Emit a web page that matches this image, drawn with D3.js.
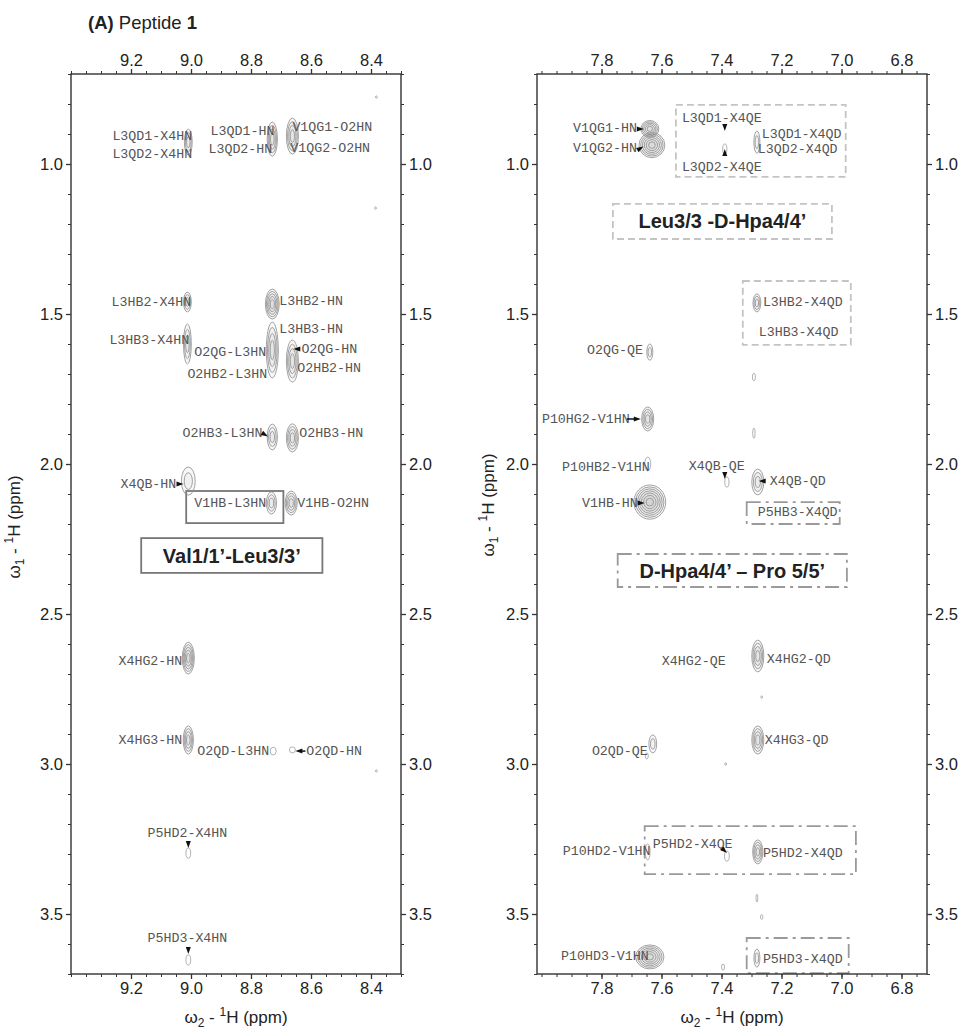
<!DOCTYPE html>
<html>
<head>
<meta charset="utf-8">
<script src="https://cdn.jsdelivr.net/npm/d3@7"></script>
<style>
  body { margin: 0; background: #fff; }
  svg { display: block; }
  .lbl { font-family: "Liberation Mono", monospace; font-size: 13.3px; fill: #555; }
  .tick text { font-family: "Liberation Sans", Arial, sans-serif; font-size: 16.5px; fill: #222; }
  .tick line { stroke: #333; }
  .ttl { font-family: "Liberation Sans", Arial, sans-serif; font-size: 17px; fill: #222; }
  .boxtxt { font-family: "Liberation Sans", Arial, sans-serif; font-size: 20px; font-weight: bold; fill: #222; }
</style>
</head>
<body>
<div id="chart"></div>
<script>
// tick values (ppm)
var leftXTicks = [9.2, 9.0, 8.8, 8.6, 8.4];
var rightXTicks = [7.8, 7.6, 7.4, 7.2, 7.0, 6.8];
var yTicks = [1.0, 1.5, 2.0, 2.5, 3.0, 3.5];

// cross peaks: [w2, w1, half width w2, half width w1, contour levels]
var leftPeaks = [
  [9.009, 0.927, 0.013, 0.043, 3],
  [8.729, 0.917, 0.017, 0.057, 4],
  [8.662, 0.907, 0.020, 0.060, 4],
  [8.382, 0.777, 0.003, 0.004, 1],
  [8.385, 1.147, 0.003, 0.004, 1],
  [9.012, 1.460, 0.013, 0.033, 3],
  [8.729, 1.467, 0.023, 0.050, 5],
  [9.012, 1.600, 0.013, 0.067, 3],
  [8.729, 1.620, 0.020, 0.093, 4],
  [8.662, 1.657, 0.020, 0.070, 4],
  [8.729, 1.910, 0.017, 0.043, 3],
  [8.662, 1.913, 0.020, 0.047, 4],
  [9.009, 2.057, 0.023, 0.047, 2],
  [8.732, 2.130, 0.017, 0.037, 3],
  [8.666, 2.130, 0.020, 0.040, 4],
  [9.009, 2.647, 0.020, 0.053, 5],
  [9.009, 2.920, 0.017, 0.047, 4],
  [8.726, 2.957, 0.010, 0.013, 1],
  [8.662, 2.953, 0.010, 0.010, 1],
  [8.382, 3.023, 0.003, 0.004, 1],
  [9.009, 3.297, 0.008, 0.017, 1],
  [9.009, 3.653, 0.008, 0.017, 1]
];

var rightPeaks = [
  [7.639, 0.883, 0.030, 0.028, 5],
  [7.632, 0.937, 0.043, 0.042, 6],
  [7.389, 0.950, 0.007, 0.017, 1],
  [7.282, 0.927, 0.010, 0.037, 2],
  [7.282, 1.463, 0.013, 0.030, 3],
  [7.639, 1.627, 0.010, 0.027, 2],
  [7.292, 1.710, 0.005, 0.013, 1],
  [7.646, 1.850, 0.020, 0.040, 4],
  [7.292, 1.897, 0.004, 0.017, 1],
  [7.646, 2.000, 0.010, 0.023, 1],
  [7.382, 2.060, 0.007, 0.017, 1],
  [7.279, 2.060, 0.020, 0.043, 3],
  [7.639, 2.127, 0.053, 0.057, 7],
  [7.279, 2.640, 0.020, 0.053, 4],
  [7.279, 2.920, 0.020, 0.047, 4],
  [7.266, 2.777, 0.003, 0.004, 1],
  [7.386, 3.000, 0.003, 0.004, 1],
  [7.629, 2.933, 0.013, 0.030, 2],
  [7.649, 2.973, 0.005, 0.010, 1],
  [7.646, 3.293, 0.008, 0.027, 1],
  [7.382, 3.307, 0.008, 0.017, 1],
  [7.279, 3.293, 0.017, 0.040, 4],
  [7.282, 3.447, 0.003, 0.013, 1],
  [7.266, 3.510, 0.004, 0.008, 1],
  [7.282, 3.647, 0.010, 0.030, 2],
  [7.639, 3.643, 0.047, 0.040, 6],
  [7.395, 3.677, 0.005, 0.010, 1]
];

// assignments: [text, w2, w1, anchor]
var leftLabels = [
  ["L3QD1-X4HN", 8.996, 0.907, "end"],
  ["L3QD2-X4HN", 8.996, 0.967, "end"],
  ["L3QD1-HN", 8.722, 0.890, "end"],
  ["L3QD2-HN", 8.729, 0.950, "end"],
  ["V1QG1-O2HN", 8.662, 0.877, "start"],
  ["V1QG2-O2HN", 8.669, 0.947, "start"],
  ["L3HB2-X4HN", 8.999, 1.460, "end"],
  ["L3HB2-HN", 8.706, 1.457, "start"],
  ["L3HB3-X4HN", 9.006, 1.587, "end"],
  ["L3HB3-HN", 8.706, 1.550, "start"],
  ["O2QG-L3HN", 8.989, 1.627, "start"],
  ["O2HB2-L3HN", 9.012, 1.700, "start"],
  ["O2QG-HN", 8.632, 1.617, "start"],
  ["O2HB2-HN", 8.646, 1.680, "start"],
  ["O2HB3-L3HN", 8.762, 1.897, "end"],
  ["O2HB3-HN", 8.639, 1.897, "start"],
  ["X4QB-HN", 9.049, 2.067, "end"],
  ["V1HB-L3HN", 8.989, 2.133, "start"],
  ["V1HB-O2HN", 8.646, 2.133, "start"],
  ["X4HG2-HN", 9.029, 2.657, "end"],
  ["X4HG3-HN", 9.029, 2.923, "end"],
  ["O2QD-L3HN", 8.979, 2.957, "start"],
  ["O2QD-HN", 8.616, 2.957, "start"],
  ["P5HD2-X4HN", 9.012, 3.233, "middle"],
  ["P5HD3-X4HN", 9.012, 3.583, "middle"]
];

var rightLabels = [
  ["V1QG1-HN", 7.682, 0.883, "end"],
  ["V1QG2-HN", 7.682, 0.947, "end"],
  ["L3QD1-X4QE", 7.532, 0.847, "start"],
  ["L3QD2-X4QE", 7.532, 1.010, "start"],
  ["L3QD1-X4QD", 7.266, 0.903, "start"],
  ["L3QD2-X4QD", 7.279, 0.953, "start"],
  ["L3HB2-X4QD", 7.262, 1.460, "start"],
  ["L3HB3-X4QD", 7.276, 1.563, "start"],
  ["O2QG-QE", 7.662, 1.620, "end"],
  ["P10HG2-V1HN", 7.706, 1.850, "end"],
  ["P10HB2-V1HN", 7.639, 2.013, "end"],
  ["X4QB-QE", 7.509, 2.007, "start"],
  ["X4QB-QD", 7.239, 2.057, "start"],
  ["V1HB-HN", 7.679, 2.130, "end"],
  ["P5HB3-X4QD", 7.279, 2.160, "start"],
  ["X4HG2-QE", 7.599, 2.657, "start"],
  ["X4HG2-QD", 7.249, 2.653, "start"],
  ["X4HG3-QD", 7.256, 2.920, "start"],
  ["O2QD-QE", 7.832, 2.957, "start"],
  ["P10HD2-V1HN", 7.929, 3.293, "start"],
  ["P5HD2-X4QE", 7.629, 3.267, "start"],
  ["P5HD2-X4QD", 7.262, 3.297, "start"],
  ["P5HD3-X4QD", 7.262, 3.650, "start"],
  ["P10HD3-V1HN", 7.935, 3.643, "start"]
];

// pointer arrows: [w2, w1, direction in degrees, tail length]
var leftArrows = [
  [8.649, 1.617, 180, 0],
  [8.752, 1.903, 30, 0],
  [9.035, 2.067, 0, 0],
  [8.642, 2.957, 180, 4],
  [9.009, 3.270, 90, 0],
  [9.009, 3.623, 90, 0]
];
var rightArrows = [
  [7.669, 0.883, 0, 0],
  [7.669, 0.947, -30, 0],
  [7.389, 0.880, 90, 0],
  [7.389, 0.960, -90, 0],
  [7.679, 1.850, 0, 8],
  [7.389, 2.040, 90, 0],
  [7.266, 2.057, 180, 0],
  [7.666, 2.130, 0, 0],
  [7.389, 3.290, 45, 0]
];

// highlighted regions: [w2 from, w2 to, w1 from, w1 to, line kind, caption]
var leftBoxes = [
  [9.016, 8.692, 2.090, 2.197, "solid", ""],
  [9.166, 8.562, 2.247, 2.363, "solid", "Val1/1\u2019-Leu3/3\u2019"]
];
var rightBoxes = [
  [7.552, 6.986, 0.803, 1.043, "dash", ""],
  [7.762, 7.032, 1.133, 1.250, "dash", "Leu3/3 -D-Hpa4/4\u2019"],
  [7.329, 6.969, 1.390, 1.603, "dash", ""],
  [7.316, 7.006, 2.127, 2.200, "dashdot", ""],
  [7.746, 6.982, 2.300, 2.410, "dashdot", "D-Hpa4/4\u2019 \u2013 Pro 5/5\u2019"],
  [7.656, 6.952, 3.207, 3.367, "dashdot", ""],
  [7.316, 6.976, 3.580, 3.697, "dashdot", ""]
];

var width = 961, height = 1030;
var plotTop = 74, plotBottom = 974;

var svg = d3.select("#chart").append("svg")
  .attr("width", width)
  .attr("height", height);

svg.append("text").attr("class", "ttl").attr("x", 88).attr("y", 29)
  .style("font-size", "18.5px")
  .call(function(t){
    t.append("tspan").style("font-weight", "bold").text("(A)");
    t.append("tspan").text(" Peptide ");
    t.append("tspan").style("font-weight", "bold").text("1");
  });

var panels = [
  {x0: 71, x1: 401, dom: [9.40, 8.30], ticks: leftXTicks, peaks: leftPeaks, labels: leftLabels, arrows: leftArrows, boxes: leftBoxes, ytitle: 14, yMid: 527},
  {x0: 537, x1: 927, dom: [8.015, 6.715], ticks: rightXTicks, peaks: rightPeaks, labels: rightLabels, arrows: rightArrows, boxes: rightBoxes, ytitle: 488, yMid: 505}
];

var y = d3.scaleLinear().domain([0.7, 3.7]).range([plotTop, plotBottom]);

panels.forEach(function(p){
  var x = d3.scaleLinear().domain(p.dom).range([p.x0, p.x1]);
  var g = svg.append("g");

  // boxes
  var dashes = {solid: null, dash: "7,4", dashdot: "14,5,3,5"};
  var colors = {solid: "#777", dash: "#c4c4c4", dashdot: "#9a9a9a"};
  p.boxes.forEach(function(b){
    g.append("rect")
      .attr("x", x(b[0])).attr("y", y(b[2]))
      .attr("width", x(b[1]) - x(b[0])).attr("height", y(b[3]) - y(b[2]))
      .attr("fill", "none")
      .attr("stroke", colors[b[4]])
      .attr("stroke-width", 1.8)
      .attr("stroke-dasharray", dashes[b[4]]);
    if (b[5]) {
      g.append("text").attr("class", "boxtxt")
        .attr("x", (x(b[0]) + x(b[1])) / 2)
        .attr("y", (y(b[2]) + y(b[3])) / 2)
        .attr("text-anchor", "middle")
        .attr("dominant-baseline", "central")
        .text(b[5]);
    }
  });

  // contours
  p.peaks.forEach(function(pk){
    var cx = x(pk[0]), cy = y(pk[1]);
    var rx = Math.abs(x(pk[0] + pk[2]) - cx), ry = y(pk[1] + pk[3]) - cy;
    var n = pk[4];
    var ring = d3.range(n).map(function(k){ return Math.pow((n - k) / n, 0.75); });
    g.selectAll(null).data(ring).enter().append("ellipse")
      .attr("cx", cx).attr("cy", cy)
      .attr("rx", function(f){ return Math.max(rx * f, 0.8); })
      .attr("ry", function(f){ return Math.max(ry * f, 0.8); })
      .attr("fill", "#999")
      .attr("fill-opacity", n > 1 ? 0.07 : 0)
      .attr("stroke", n > 1 ? "#8c8c8c" : "#a0a0a0")
      .attr("stroke-width", 0.8);
  });

  // labels
  g.selectAll(null).data(p.labels).enter().append("text")
    .attr("class", "lbl")
    .attr("x", function(d){ return x(d[1]); })
    .attr("y", function(d){ return y(d[2]); })
    .attr("text-anchor", function(d){ return d[3]; })
    .attr("dominant-baseline", "central")
    .text(function(d){ return d[0]; });

  // arrows
  p.arrows.forEach(function(a){
    var ax = x(a[0]), ay = y(a[1]);
    var ag = g.append("g").attr("transform", "translate(" + ax + "," + ay + ") rotate(" + a[2] + ")");
    if (a[3]) ag.append("line").attr("x1", -a[3] - 3).attr("x2", 0).attr("stroke", "#111").attr("stroke-width", 1.5);
    ag.append("path").attr("d", "M3,0L-4,-2.5L-4,2.5Z").attr("fill", "#111");
  });

  // frame
  g.append("rect")
    .attr("x", p.x0).attr("y", plotTop)
    .attr("width", p.x1 - p.x0).attr("height", plotBottom - plotTop)
    .attr("fill", "none").attr("stroke", "#333").attr("stroke-width", 1.4);

  var xMinor = d3.range(Math.ceil(p.dom[1] * 20), Math.floor(p.dom[0] * 20) + 1).map(function(v){ return v / 20; });
  var yMinor = d3.range(7, 38).map(function(v){ return v / 10; });
  var fmt = d3.format(".1f");

  function addAxis(axisFn, scale, major, minor, tr) {
    g.append("g").attr("transform", tr)
      .call(axisFn(scale).tickValues(minor).tickSize(3).tickFormat(""))
      .call(function(s){ s.select(".domain").remove(); });
    g.append("g").attr("transform", tr)
      .call(axisFn(scale).tickValues(major).tickSize(5).tickPadding(3).tickFormat(fmt))
      .call(function(s){ s.select(".domain").remove(); s.selectAll("line").attr("stroke-width", 1.3); });
  }
  addAxis(d3.axisTop, x, p.ticks, xMinor, "translate(0," + plotTop + ")");
  addAxis(d3.axisBottom, x, p.ticks, xMinor, "translate(0," + plotBottom + ")");
  addAxis(d3.axisLeft, y, yTicks, yMinor, "translate(" + p.x0 + ",0)");
  addAxis(d3.axisRight, y, yTicks, yMinor, "translate(" + p.x1 + ",0)");

  // axis titles
  var xt = g.append("text").attr("class", "ttl")
    .attr("x", (p.x0 + p.x1) / 2).attr("y", 1023).attr("text-anchor", "middle");
  xt.append("tspan").text("\u03c9");
  xt.append("tspan").attr("dy", 4).style("font-size", "12px").text("2");
  xt.append("tspan").attr("dy", -4).text(" - ");
  xt.append("tspan").attr("dy", -7).style("font-size", "12px").text("1");
  xt.append("tspan").attr("dy", 7).text("H  (ppm)");

  var yt = g.append("text").attr("class", "ttl")
    .attr("transform", "translate(" + (p.ytitle + 6) + "," + p.yMid + ") rotate(-90)")
    .attr("text-anchor", "middle");
  yt.append("tspan").text("\u03c9");
  yt.append("tspan").attr("dy", 4).style("font-size", "12px").text("1");
  yt.append("tspan").attr("dy", -4).text(" - ");
  yt.append("tspan").attr("dy", -7).style("font-size", "12px").text("1");
  yt.append("tspan").attr("dy", 7).text("H  (ppm)");
});
</script>
</body>
</html>
